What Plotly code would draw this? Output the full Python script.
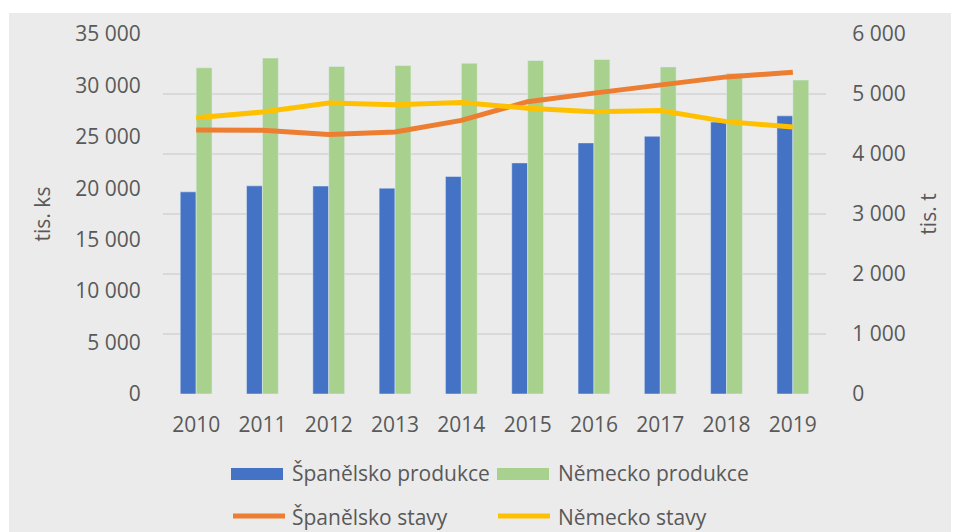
import plotly.graph_objects as go

years = ["2010", "2011", "2012", "2013", "2014", "2015", "2016", "2017", "2018", "2019"]
es_prod = [3369, 3469, 3466, 3431, 3625, 3852, 4185, 4296, 4532, 4636]
de_prod = [5437, 5600, 5460, 5475, 5512, 5558, 5575, 5452, 5345, 5233]
es_stavy = [25670, 25640, 25220, 25480, 26600, 28420, 29250, 30040, 30830, 31280]
de_stavy = [26850, 27410, 28300, 28130, 28350, 27780, 27440, 27560, 26480, 25950]
names = ["Španělsko produkce", "Německo produkce", "Španělsko stavy", "Německo stavy"]
colors = ["#4472C4", "#A9D18E", "#ED7D31", "#FFC000"]
left_title = "tis. ks"
right_title = "tis. t"

FONT = "Open Sans"
TXT = "#595959"
BG = "#EBEBEB"

OFF = 8  # page body margin
W, H = 959 - OFF, 532 - OFF
L, R, T, B = 163 - OFF, 959 - 826, 34 - OFF, 532 - 394
pw, ph = W - L - R, H - T - B

def px(x):
    return (x - OFF - L) / pw

def py(y):
    return (H - B - (y - OFF)) / ph

fig = go.Figure()
fig.add_trace(go.Bar(x=years, y=es_prod, name=names[0], marker_color=colors[0], yaxis="y"))
fig.add_trace(go.Bar(x=years, y=de_prod, name=names[1], marker_color=colors[1], yaxis="y"))
fig.add_trace(go.Scatter(x=years, y=es_stavy, name=names[2], mode="lines",
                         line=dict(color=colors[2], width=5), yaxis="y2"))
fig.add_trace(go.Scatter(x=years, y=de_stavy, name=names[3], mode="lines",
                         line=dict(color=colors[3], width=5), yaxis="y2"))

shapes = [
    dict(type="rect", xref="paper", yref="paper", x0=px(9), x1=px(965), y0=py(540), y1=py(13),
         fillcolor=BG, line=dict(width=0), layer="below"),
    dict(type="rect", xref="paper", yref="paper", x0=px(231), x1=px(283), y0=py(480), y1=py(468),
         fillcolor=colors[0], line=dict(width=0)),
    dict(type="rect", xref="paper", yref="paper", x0=px(497), x1=px(549), y0=py(480), y1=py(468),
         fillcolor=colors[1], line=dict(width=0)),
    dict(type="line", xref="paper", yref="paper", x0=px(233), x1=px(285), y0=py(516), y1=py(516),
         line=dict(color=colors[2], width=5)),
    dict(type="line", xref="paper", yref="paper", x0=px(498), x1=px(550), y0=py(516), y1=py(516),
         line=dict(color=colors[3], width=5)),
]
annotations = []
for (x, y), n in zip([(290, 473), (556, 473), (290, 517), (556, 517)], names):
    annotations.append(dict(text=n, xref="paper", yref="paper", x=px(x), y=py(y),
                            xanchor="left", yanchor="middle", showarrow=False,
                            font=dict(family=FONT, size=21, color=TXT)))

fig.update_layout(
    width=W, height=H,
    margin=dict(l=L, r=R, t=T, b=B, pad=0),
    paper_bgcolor="white", plot_bgcolor=BG,
    separators=", ",
    barmode="group", bargap=0.52, bargroupgap=0,
    showlegend=False,
    font=dict(family=FONT, size=21, color=TXT),
    shapes=shapes, annotations=annotations,
    xaxis=dict(type="category", showgrid=False, zeroline=False, showline=False,
               ticks="outside", ticklen=12, tickcolor="rgba(0,0,0,0)",
               tickfont=dict(family=FONT, size=21, color=TXT)),
    yaxis=dict(side="right", range=[0, 6000], dtick=1000, tickformat=",.0f",
               showgrid=True, gridcolor="#D9D9D9", gridwidth=1.5, zeroline=False,
               ticks="outside", ticklen=21, tickcolor="rgba(0,0,0,0)",
               tickfont=dict(family=FONT, size=21, color=TXT),
               title=dict(text=right_title, standoff=16, font=dict(family=FONT, size=21, color=TXT))),
    yaxis2=dict(side="left", overlaying="y", range=[0, 35000], dtick=5000, tickformat=",.0f",
                showgrid=False, zeroline=False,
                ticks="outside", ticklen=17, tickcolor="rgba(0,0,0,0)",
                tickfont=dict(family=FONT, size=21, color=TXT),
                title=dict(text=left_title, standoff=18, font=dict(family=FONT, size=21, color=TXT))),
)

fig.write_html("out.html")
